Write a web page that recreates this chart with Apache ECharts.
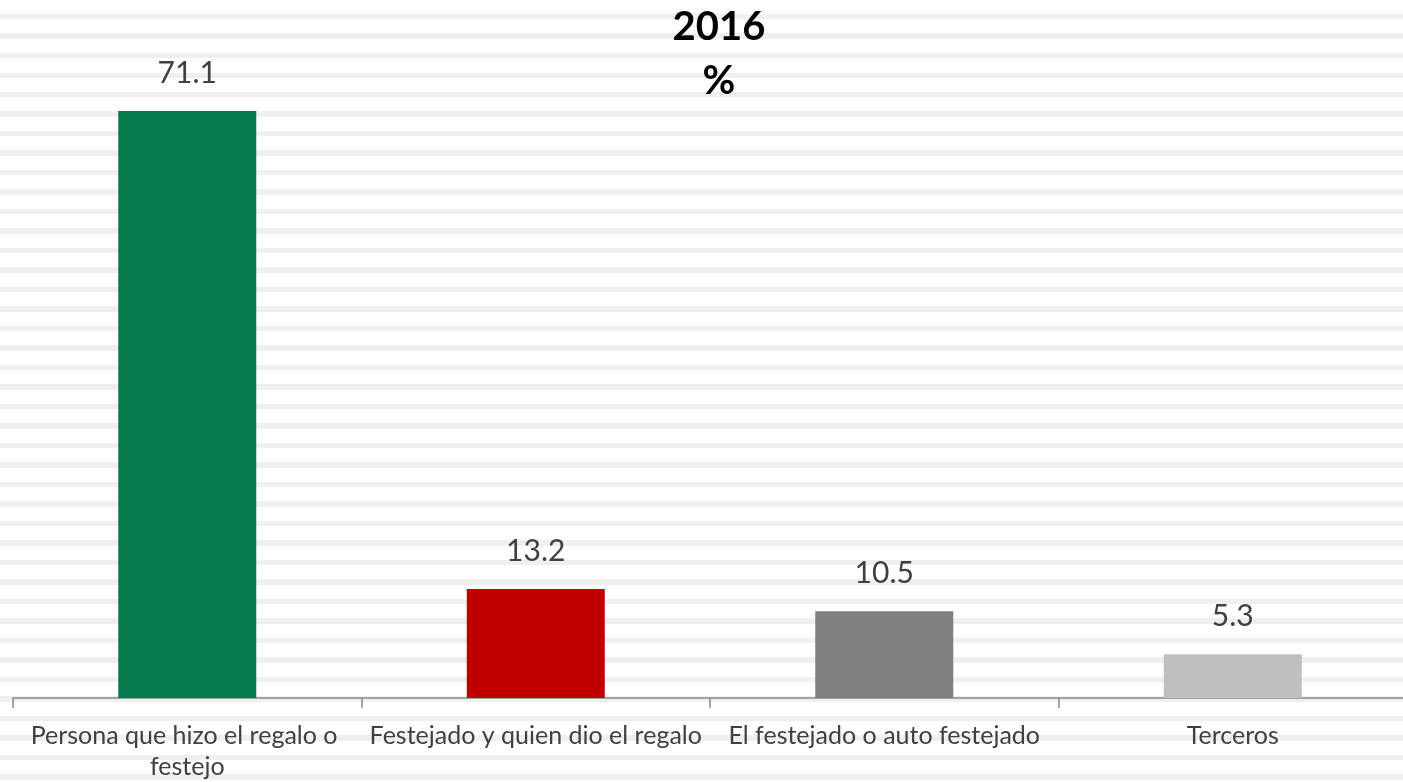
<!DOCTYPE html>
<html>
<head>
<meta charset="utf-8">
<script src="https://cdn.jsdelivr.net/npm/echarts@6/dist/echarts.min.js"></script>
<style>
  html, body { margin: 0; padding: 0; }
  body {
    width: 1403px; height: 782px; overflow: hidden;
    background: repeating-linear-gradient(to bottom,
      #ffffff 0px, #ffffff 14px, #efefef 14px, #efefef 19.5px, #ffffff 19.5px, #ffffff 15.875px);
    background-color: #ffffff;
  }
  #chart { width: 1403px; height: 782px; }
</style>
</head>
<body>
<div id="chart"></div>
<script>
const categories = [
  'Persona que hizo el regalo o festejo',
  'Festejado y quien dio el regalo',
  'El festejado o auto festejado',
  'Terceros'
];
const values = [71.1, 13.2, 10.5, 5.3];
const barColors = ['#047A4D', '#C00000', '#7F7F7F', '#BFBFBF'];
const titleText = '2016\n%';

const chart = echarts.init(document.getElementById('chart'), null, { renderer: 'canvas' });
chart.setOption({
  backgroundColor: 'transparent',
  animation: false,
  title: {
    text: titleText,
    left: 719,
    top: 0,
    padding: 0,
    textAlign: 'center',
    textStyle: { fontFamily: 'Lato', fontWeight: 'bold', fontSize: 40, lineHeight: 54, color: '#000000' }
  },
  grid: { left: 13, right: -4, top: 37.5, bottom: 84, containLabel: false, outerBoundsMode: 'none' },
  xAxis: {
    type: 'category',
    data: categories,
    axisLine: { show: true, lineStyle: { color: '#898989', width: 1.5 } },
    axisTick: { show: true, length: 10, alignWithLabel: false, lineStyle: { color: '#898989', width: 1.5 } },
    axisLabel: {
      interval: 0, margin: 22, fontFamily: 'Lato', fontSize: 25, lineHeight: 31, color: '#404040',
      width: 345, overflow: 'break'
    }
  },
  yAxis: {
    type: 'value', min: 0, max: 80, show: false, splitLine: { show: false }
  },
  series: [{
    type: 'bar',
    data: values.map((v, i) => ({ value: v, itemStyle: { color: barColors[i] } })),
    barWidth: 138,
    label: {
      show: true, position: 'top', distance: 23,
      fontFamily: 'Lato', fontSize: 30, lineHeight: 30, color: '#404040',
      formatter: p => p.value.toFixed(1)
    }
  }]
});
</script>
</body>
</html>
